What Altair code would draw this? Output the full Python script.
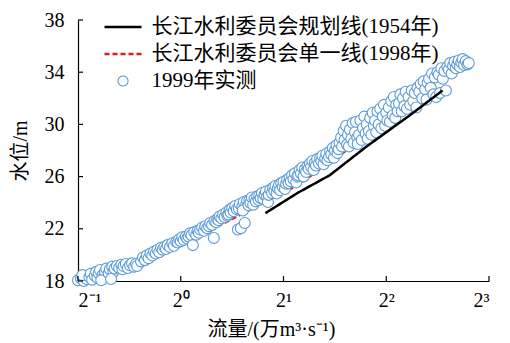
import altair as alt
import pandas as pd

SERIES = ["长江水利委员会规划线(1954年)", "长江水利委员会单一线(1998年)", "1999年实测"]
COLORS = ["#000000", "#e8161b", "#5b9bd5"]

# 长江水利委员会规划线 (1954)
plan1954_flow = [1.77, 2.2, 2.73, 3.5, 4.69, 5.85]
plan1954_stage = [23.2, 24.75, 26.1, 28.3, 30.7, 32.6]

# 长江水利委员会单一线 (1998)
single1998_flow = [1.0, 1.1, 1.2, 1.62, 2.2, 3.13, 3.8, 4.95, 5.8]
single1998_stage = [20.95, 21.4, 21.8, 23.55, 25.35, 28.2, 29.6, 31.8, 32.7]

# 1999年实测 (flow in 万m3/s, stage in m)
obs_flow = [
    0.50, 0.51, 0.52, 0.525, 0.53, 0.515,
    0.54, 0.545, 0.55, 0.56, 0.565, 0.57,
    0.575, 0.58, 0.59, 0.595, 0.60, 0.605, 0.585,
    0.615, 0.62, 0.63, 0.635, 0.64, 0.65, 0.625,
    0.66, 0.67, 0.675, 0.68, 0.69, 0.70,
    0.71, 0.72, 0.73, 0.74, 0.745,
    0.765, 0.775, 0.785, 0.795, 0.805, 0.815,
    0.825, 0.835, 0.845, 0.855, 0.865, 0.875, 0.885,
    0.895, 0.905, 0.915, 0.93, 0.945, 0.955, 0.97,
    0.98, 0.99, 1.0, 1.01, 1.02, 1.035, 1.045,
    1.055, 1.065, 1.075, 1.085, 1.095, 1.11, 1.12,
    1.13, 1.14, 1.155, 1.17, 1.18, 1.195,
    1.21, 1.22, 1.235, 1.25, 1.255, 1.27, 1.28,
    1.29, 1.30, 1.315, 1.33, 1.345, 1.36, 1.37,
    1.38, 1.39, 1.40, 1.415, 1.43, 1.445, 1.46, 1.47,
    1.48, 1.49, 1.50, 1.515, 1.53, 1.54, 1.555, 1.565, 1.52,
    1.58, 1.59, 1.60, 1.615, 1.63, 1.645, 1.66, 1.675,
    1.69, 1.70, 1.715, 1.73, 1.745, 1.76, 1.775, 1.79, 1.80,
    1.81, 1.83, 1.85, 1.865, 1.88, 1.895, 1.91, 1.925,
    1.94, 1.955, 1.97, 1.99, 2.0, 2.02, 2.035, 2.05,
    2.07, 2.085, 2.10, 2.12, 2.14, 2.16, 2.18, 2.195,
    2.21, 2.23, 2.25, 2.27, 2.29, 2.31, 2.33, 2.35,
    2.37, 2.39, 2.41, 2.43, 2.45, 2.47, 2.49, 2.51,
    2.54, 2.56, 2.58, 2.60, 2.62, 2.65, 2.67, 2.69,
    2.72, 2.74, 2.76, 2.79, 2.81, 2.83, 2.86, 2.88,
    2.90, 2.92, 2.95, 2.97, 3.0, 3.02, 3.05, 3.07, 3.09,
    3.11, 3.13, 3.16, 3.19, 3.21, 3.24, 3.26, 3.29, 3.30,
    3.33, 3.36, 3.39, 3.42, 3.45, 3.48, 3.51, 3.53,
    3.56, 3.59, 3.62, 3.65, 3.68, 3.71, 3.74, 3.77,
    3.80, 3.84, 3.87, 3.91, 3.94, 3.97, 4.0, 4.03,
    4.07, 4.10, 4.14, 4.18, 4.21, 4.25, 4.28, 4.32,
    4.36, 4.40, 4.44, 4.48, 4.52, 4.56, 4.60,
    4.65, 4.70, 4.75, 4.80, 4.85, 4.90, 4.94,
    5.0, 5.05, 5.10, 5.15, 5.20, 5.25, 5.29,
    5.34, 5.40, 5.45, 5.50, 5.55, 5.60, 5.65,
    5.70, 5.75, 5.80, 5.86, 5.92, 5.98, 6.04,
    6.10, 6.16, 6.22, 6.28, 6.34, 6.40, 6.46,
    6.52, 6.58, 6.64, 6.70, 6.76, 6.84, 6.92, 6.98,
]
obs_stage = [
    18.05, 18.2, 18.0, 18.35, 18.15, 18.45,
    18.3, 18.55, 18.1, 18.4, 18.7, 18.25,
    18.6, 18.85, 18.45, 18.3, 18.7, 18.95, 18.05,
    18.6, 18.9, 19.1, 18.7, 18.95, 19.15, 18.15,
    19.0, 19.25, 18.9, 19.15, 19.3, 19.0,
    19.2, 19.35, 19.1, 19.3, 19.15,
    19.5, 19.8, 19.6, 19.95, 19.75, 20.1,
    19.95, 20.25, 20.1, 20.4, 20.2, 20.55, 20.4,
    20.6, 20.45, 20.75, 20.6, 20.9, 20.7, 21.0,
    20.95, 21.2, 21.05, 21.35, 21.15, 21.4, 21.25,
    21.4, 21.65, 21.5, 20.75, 21.75, 21.55, 21.85,
    21.7, 21.95, 22.1, 21.85, 22.2, 22.05,
    22.2, 22.45, 22.3, 21.3, 22.6, 22.5, 22.75,
    22.65, 22.95, 22.8, 23.1, 22.9, 23.25, 23.0,
    23.1, 23.45, 23.25, 23.6, 23.35, 23.75, 23.5, 21.95,
    23.55, 23.9, 22.05, 23.7, 24.05, 22.45, 23.85, 24.15, 23.4,
    23.8, 24.2, 24.0, 24.4, 23.85, 24.3, 24.1, 24.5,
    24.2, 24.55, 24.35, 24.75, 24.3, 24.6, 24.85, 24.45, 24.05,
    24.6, 25.0, 24.75, 25.15, 24.9, 25.3, 24.7, 25.1,
    25.35, 24.95, 25.5, 25.2, 25.6, 25.05, 25.45, 25.75,
    25.5, 25.9, 25.65, 26.1, 25.8, 26.25, 25.55, 26.0,
    26.1, 26.5, 26.25, 26.7, 26.0, 26.55, 26.35, 26.8,
    26.6, 27.0, 26.75, 27.2, 26.5, 27.05, 26.85, 27.35,
    27.0, 27.45, 27.2, 27.6, 26.95, 27.4, 27.75, 27.25,
    27.5, 27.95, 27.7, 28.2, 27.45, 28.0, 28.4, 27.8,
    28.1, 28.6, 29.0, 28.3, 29.5, 28.8, 29.9, 28.45, 29.2,
    28.3, 29.6, 28.9, 30.1, 28.6, 29.4, 30.2, 29.0, 28.5,
    29.2, 30.3, 28.8, 29.7, 30.6, 29.3, 30.0, 28.9,
    29.5, 30.5, 29.2, 30.9, 29.9, 30.3, 29.4, 31.0,
    30.0, 31.2, 29.7, 30.6, 31.5, 29.9, 30.9, 30.3,
    31.3, 30.2, 31.8, 30.7, 32.1, 30.5, 31.5, 31.0,
    31.6, 32.3, 31.0, 32.0, 31.4, 32.5, 31.2,
    32.1, 31.5, 32.6, 31.8, 32.4, 31.3, 32.8,
    32.5, 33.1, 32.0, 33.3, 32.7, 31.9, 33.2,
    33.5, 32.8, 33.9, 32.3, 33.6, 32.1, 34.0,
    33.8, 32.4, 34.3, 33.5, 34.1, 32.6, 34.4,
    34.2, 34.7, 33.9, 34.5, 34.8, 34.3, 34.6,
    34.9, 34.4, 34.75, 35.0, 34.55, 34.85, 34.6, 34.7,
]

x_tick_values = [0.5, 1, 2, 4, 8]
y_tick_values = [18, 22, 26, 30, 34, 38]

W, H = 411, 261
FONT = "Liberation Serif, Noto Sans CJK SC"
LINE_PATH = "M-3.7,0H3.7"

df_plan = pd.DataFrame({"flow": plan1954_flow, "stage": plan1954_stage,
                        "series": [SERIES[0]] * len(plan1954_flow)})
df_single = pd.DataFrame({"flow": single1998_flow, "stage": single1998_stage,
                          "series": [SERIES[1]] * len(single1998_flow)})
df_obs = pd.DataFrame({"flow": obs_flow, "stage": obs_stage, "series": [SERIES[2]] * len(obs_flow)})
df_xt = pd.DataFrame({"flow": x_tick_values})
df_yt = pd.DataFrame({"stage": y_tick_values})

xscale = alt.Scale(type="log", base=2, domain=[0.5, 8], nice=False)
yscale = alt.Scale(domain=[18, 38], nice=False, zero=False)

xaxis = alt.Axis(
    values=x_tick_values,
    labelExpr="datum.value < 0.75 ? '2⁻¹' : datum.value < 1.5 ? '2⁰' : datum.value < 3 ? '2¹' : datum.value < 6 ? '2²' : '2³'",
    title="流量/(万m³·s⁻¹)", titleX=193, titleAlign="center", titlePadding=9,
    titleFontSize=20, ticks=False, labelPadding=9, grid=False,
)
yaxis = alt.Axis(
    values=y_tick_values, title="水位/m", ticks=False, labelPadding=14,
    titlePadding=14, grid=False,
)

legend = alt.Legend(
    title=None, orient="none", legendX=34.5, legendY=-3.5,
    labelFont=FONT, labelFontSize=21, labelColor="black", labelLimit=0,
    symbolSize=100, symbolOffset=0, labelOffset=18, rowPadding=5, padding=0,
)

color_enc = alt.Color("series:N", scale=alt.Scale(domain=SERIES, range=COLORS), legend=legend)
dash_enc = alt.StrokeDash("series:N", scale=alt.Scale(domain=SERIES, range=[[1, 0], [5, 3], [1, 0]]), legend=legend)
shape_enc = alt.Shape("series:N", scale=alt.Scale(domain=SERIES, range=[LINE_PATH, LINE_PATH, "circle"]), legend=legend)
sw_enc = alt.StrokeWidth("series:O", scale=alt.Scale(type="ordinal", domain=SERIES, range=[2.5, 2.5, 1.1]), legend=legend)

X = alt.X("flow:Q", scale=xscale, axis=xaxis)
Y = alt.Y("stage:Q", scale=yscale, axis=yaxis)

single_line = alt.Chart(df_single).mark_line().encode(
    x=X, y=Y, color=color_enc, strokeDash=dash_enc, strokeWidth=sw_enc,
)

points = alt.Chart(df_obs).mark_point(filled=False, fill="white", fillOpacity=1, size=120, opacity=1).encode(
    x=X, y=Y, color=color_enc, shape=shape_enc, strokeWidth=sw_enc,
)

plan_line = alt.Chart(df_plan).mark_line().encode(
    x=X, y=Y, color=color_enc, strokeDash=dash_enc, strokeWidth=sw_enc,
)

xticks = alt.Chart(df_xt).mark_rule(color="black", strokeWidth=1.2).encode(
    x=X, y=alt.value(H), y2=alt.value(H - 5),
)
yticks = alt.Chart(df_yt).mark_rule(color="black", strokeWidth=1.2).encode(
    y=Y, x=alt.value(0), x2=alt.value(5),
)

chart = alt.layer(single_line, points, plan_line, xticks, yticks).properties(
    width=W, height=H,
    autosize=alt.AutoSizeParams(type="none"),
    padding={"left": 70, "top": 12, "right": 13, "bottom": 62},
).configure_view(stroke=None).configure_axis(
    domainColor="black", domainWidth=1.2,
    labelFont="Liberation Serif", labelFontSize=20, labelColor="black",
    titleFont=FONT, titleFontSize=20, titleColor="black", titleFontWeight="normal",
)

chart.save("out.html", embed_options={"renderer": "svg", "actions": False})
